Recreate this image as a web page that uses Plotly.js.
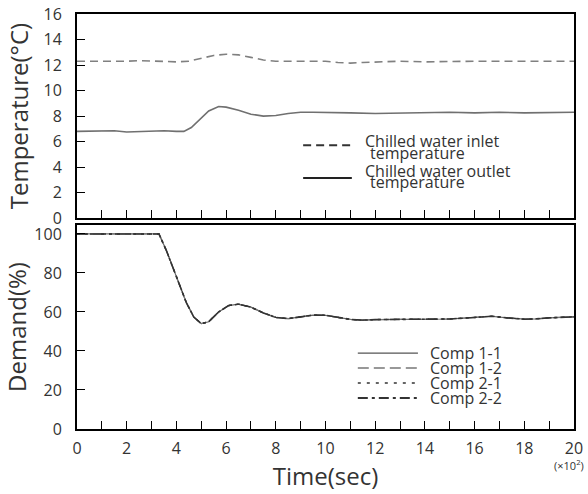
<!DOCTYPE html>
<html>
<head>
<meta charset="utf-8">
<script src="https://cdn.plot.ly/plotly-3.0.1.min.js"></script>
<style>
  html, body { margin: 0; padding: 0; background: #fff; }
  #chart { width: 588px; height: 494px; }
</style>
</head>
<body>
<div id="chart"></div>
<script>
// Time axis in units of 100 s
const inletTime  = [0, 1, 1.5, 2, 2.5, 3, 3.5, 4, 4.5, 5, 5.5, 6, 6.5, 7, 7.5, 8, 8.5, 9, 9.5, 10, 10.5, 11, 11.5, 12, 13, 14, 15, 16, 17, 18, 19, 20];
const inletTemp  = [12.3, 12.3, 12.25, 12.3, 12.35, 12.3, 12.3, 12.25, 12.3, 12.5, 12.75, 12.85, 12.8, 12.6, 12.4, 12.3, 12.3, 12.3, 12.35, 12.3, 12.2, 12.15, 12.2, 12.25, 12.3, 12.25, 12.3, 12.3, 12.3, 12.3, 12.3, 12.3];

const outletTime = [0, 1, 1.5, 2, 2.5, 3, 3.5, 4, 4.3, 4.6, 5, 5.3, 5.7, 6, 6.5, 7, 7.5, 8, 8.5, 9, 9.5, 10, 11, 12, 13, 14, 15, 16, 17, 18, 19, 20];
const outletTemp = [6.8, 6.8, 6.85, 6.75, 6.8, 6.8, 6.85, 6.8, 6.8, 7.1, 7.8, 8.4, 8.75, 8.7, 8.45, 8.15, 8.0, 8.05, 8.2, 8.3, 8.3, 8.3, 8.25, 8.2, 8.25, 8.25, 8.3, 8.25, 8.3, 8.25, 8.3, 8.3];

const demandTime = [0, 1, 2, 3, 3.3, 3.6, 4, 4.4, 4.7, 5.0, 5.3, 5.7, 6.1, 6.5, 7, 7.5, 8, 8.5, 9, 9.5, 10, 10.5, 11, 11.5, 12, 13, 14, 15, 16, 16.7, 17.3, 18, 18.5, 19, 20];
const comp11 = [100, 100, 100, 100, 100, 91.4, 78, 64.8, 57.4, 54, 55, 60, 63.3, 64, 62.5, 59.5, 57.2, 56.6, 57.5, 58.4, 58.3, 57.3, 56.2, 55.8, 56.1, 56.2, 56.3, 56.4, 57.2, 57.8, 57, 56.3, 56.5, 57.0, 57.5];
const comp12 = [100, 100, 100, 100, 100, 91.4, 78, 64.8, 57.4, 54, 55, 60, 63.3, 64, 62.5, 59.5, 57.2, 56.6, 57.5, 58.4, 58.3, 57.3, 56.2, 55.8, 56.1, 56.2, 56.3, 56.4, 57.2, 57.8, 57, 56.3, 56.5, 57.0, 57.5];
const comp21 = [100, 100, 100, 100, 100, 91.4, 78, 64.8, 57.4, 54, 55, 60, 63.3, 64, 62.5, 59.5, 57.2, 56.6, 57.5, 58.4, 58.3, 57.3, 56.2, 55.8, 56.1, 56.2, 56.3, 56.4, 57.2, 57.8, 57, 56.3, 56.5, 57.0, 57.5];
const comp22 = [100, 100, 100, 100, 100, 91.4, 78, 64.8, 57.4, 54, 55, 60, 63.3, 64, 62.5, 59.5, 57.2, 56.6, 57.5, 58.4, 58.3, 57.3, 56.2, 55.8, 56.1, 56.2, 56.3, 56.4, 57.2, 57.8, 57, 56.3, 56.5, 57.0, 57.5];

const tempNames = ['Chilled water inlet temperature', 'Chilled water outlet temperature'];
const tempLabelLines = [['Chilled water inlet', 'temperature'], ['Chilled water outlet', 'temperature']];
const compNames = ['Comp 1-1', 'Comp 1-2', 'Comp 2-1', 'Comp 2-2'];

const FONT = 'Open Sans, Noto Sans, sans-serif';
const TXT = '#333';

// Line styles shared by curves and their key entries
const tempStyles = [
  { curve: { color: '#808080', width: 1.6, dash: '8px,5px' }, key: { color: '#333', width: 2, dash: '8px,5px' } },
  { curve: { color: '#707070', width: 1.6, dash: 'solid' },   key: { color: '#222', width: 2, dash: 'solid' } }
];
const compStyles = [
  { curve: { color: '#666', width: 1.2, dash: 'solid' },          key: { color: '#555', width: 1.2, dash: 'solid' } },
  { curve: { color: '#777', width: 1.2, dash: '11px,5px' },       key: { color: '#777', width: 1.3, dash: '11px,5px' } },
  { curve: { color: '#333', width: 1.4, dash: '3px,5px' },        key: { color: '#333', width: 1.6, dash: '3px,6px' } },
  { curve: { color: '#333', width: 1.6, dash: '10px,3px,3px,3px' }, key: { color: '#333', width: 2, dash: '10px,4px,3px,4px' } }
];
const compSeries = [comp11, comp12, comp21, comp22];

const traces = [
  { x: inletTime, y: inletTemp, name: tempNames[0], xaxis: 'x', yaxis: 'y',
    mode: 'lines', line: tempStyles[0].curve, showlegend: false },
  { x: outletTime, y: outletTemp, name: tempNames[1], xaxis: 'x', yaxis: 'y',
    mode: 'lines', line: tempStyles[1].curve, showlegend: false }
];
compSeries.forEach((ys, i) => {
  traces.push({ x: demandTime, y: ys, name: compNames[i], xaxis: 'x2', yaxis: 'y2',
    mode: 'lines', line: compStyles[i].curve, showlegend: false });
});

// Key (legend) drawn in plot-area coordinates
const shapes = [];
const annotations = [];
const keyFont = { family: FONT, size: 16, color: TXT };

const tempKeyY = [0.684, 0.605];
const tempTextY = [[0.693, 0.664], [0.621, 0.594]];
tempStyles.forEach((s, i) => {
  shapes.push({ type: 'line', xref: 'paper', yref: 'paper', x0: 0.455, x1: 0.553,
    y0: tempKeyY[i], y1: tempKeyY[i], line: s.key });
  annotations.push({ xref: 'paper', yref: 'paper', x: 0.5755, y: tempTextY[i][0],
    xanchor: 'left', yanchor: 'middle', showarrow: false, text: tempLabelLines[i][0], font: keyFont });
  annotations.push({ xref: 'paper', yref: 'paper', x: 0.5855, y: tempTextY[i][1],
    xanchor: 'left', yanchor: 'middle', showarrow: false, text: tempLabelLines[i][1], font: keyFont });
});

const compKeyY = [0.183, 0.147, 0.111, 0.075];
compStyles.forEach((s, i) => {
  shapes.push({ type: 'line', xref: 'paper', yref: 'paper', x0: 0.565, x1: 0.686,
    y0: compKeyY[i], y1: compKeyY[i], line: s.key });
  annotations.push({ xref: 'paper', yref: 'paper', x: 0.706, y: compKeyY[i],
    xanchor: 'left', yanchor: 'middle', showarrow: false, text: compNames[i], font: keyFont });
});

annotations.push({ xref: 'paper', yref: 'paper', x: 0.99, y: -0.087, xanchor: 'center', yanchor: 'middle',
  text: '(×10<sup>2</sup>)', showarrow: false, font: { family: FONT, size: 11, color: TXT } });

const axisCommon = {
  showline: true, linecolor: '#000', linewidth: 2, mirror: true,
  showgrid: false, zeroline: false,
  ticks: 'inside', ticklen: 8, tickwidth: 1, tickcolor: '#000',
  tickfont: { family: FONT, size: 16, color: TXT }
};
const titleFont = { family: FONT, size: 24, color: TXT };

const layout = {
  width: 588, height: 494,
  margin: { l: 77, r: 14, t: 14, b: 65 },
  paper_bgcolor: '#fff', plot_bgcolor: '#fff',
  font: { family: FONT, color: TXT },
  showlegend: false,
  xaxis: Object.assign({}, axisCommon, {
    domain: [0, 1], range: [0, 20], dtick: 2, showticklabels: false, anchor: 'y',
    minor: { dtick: 1, ticks: 'inside', ticklen: 8, tickcolor: '#000', tickwidth: 1 }
  }),
  yaxis: Object.assign({}, axisCommon, {
    domain: [0.508, 1], range: [0, 16], dtick: 2, anchor: 'x', ticklabelstandoff: 10,
    title: { text: 'Temperature(°C)', font: titleFont, standoff: 8 }
  }),
  xaxis2: Object.assign({}, axisCommon, {
    domain: [0, 1], range: [0, 20], dtick: 2, anchor: 'y2', ticklabelstandoff: 4,
    minor: { dtick: 1, ticks: 'inside', ticklen: 8, tickcolor: '#000', tickwidth: 1 },
    title: { text: 'Time(sec)', font: titleFont, standoff: 3 }
  }),
  yaxis2: Object.assign({}, axisCommon, {
    domain: [0, 0.4916], range: [0, 104.6], tickvals: [0, 20, 40, 60, 80, 100], anchor: 'x2', ticklabelstandoff: 10,
    title: { text: 'Demand(%)', font: titleFont, standoff: 8 }
  }),
  shapes: shapes,
  annotations: annotations
};

Plotly.newPlot('chart', traces, layout, { displayModeBar: false, staticPlot: true });
</script>
</body>
</html>
